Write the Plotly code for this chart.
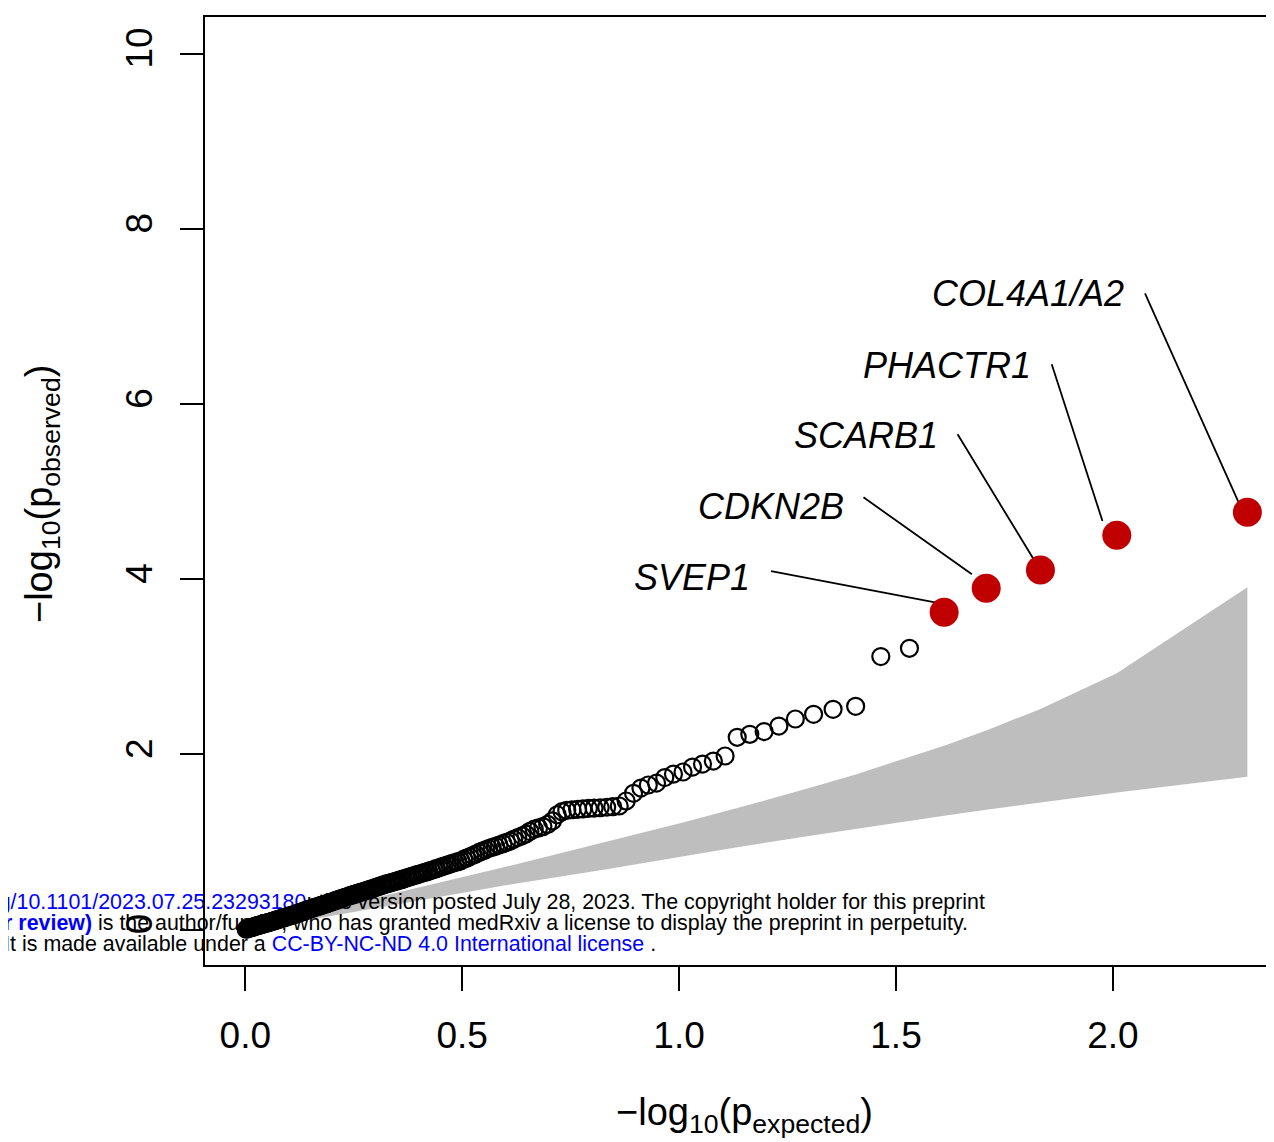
import plotly.graph_objects as go

# ---------------- data ----------------
# expected -log10(p), one value per SNP (sorted, largest first)
expected = [
    2.310, 2.009, 1.833, 1.708, 1.611, 1.531, 1.465, 1.407, 1.355, 1.310,
    1.268, 1.230, 1.196, 1.163, 1.134, 1.106, 1.079, 1.054, 1.031, 1.009,
    0.987, 0.967, 0.948, 0.929, 0.912, 0.895, 0.878, 0.862, 0.847, 0.833,
    0.818, 0.804, 0.791, 0.778, 0.766, 0.753, 0.741, 0.730, 0.719, 0.708,
    0.697, 0.686, 0.676, 0.666, 0.656, 0.647, 0.638, 0.628, 0.619, 0.611,
    0.602, 0.594, 0.585, 0.577, 0.569, 0.561, 0.554, 0.546, 0.539, 0.531,
    0.524, 0.517, 0.510, 0.503, 0.497, 0.490, 0.484, 0.477, 0.471, 0.465,
    0.458, 0.452, 0.446, 0.440, 0.435, 0.429, 0.423, 0.418, 0.412, 0.407,
    0.401, 0.396, 0.391, 0.385, 0.380, 0.375, 0.370, 0.365, 0.360, 0.355,
    0.351, 0.346, 0.341, 0.337, 0.332, 0.327, 0.323, 0.318, 0.314, 0.310,
    0.305, 0.301, 0.297, 0.293, 0.288, 0.284, 0.280, 0.276, 0.272, 0.268,
    0.264, 0.260, 0.257, 0.253, 0.249, 0.245, 0.241, 0.238, 0.234, 0.230,
    0.227, 0.223, 0.220, 0.216, 0.213, 0.209, 0.206, 0.202, 0.199, 0.196,
    0.192, 0.189, 0.186, 0.183, 0.179, 0.176, 0.173, 0.170, 0.167, 0.163,
    0.160, 0.157, 0.154, 0.151, 0.148, 0.145, 0.142, 0.139, 0.136, 0.134,
    0.131, 0.128, 0.125, 0.122, 0.119, 0.117, 0.114, 0.111, 0.108, 0.106,
    0.103, 0.100, 0.097, 0.095, 0.092, 0.090, 0.087, 0.084, 0.082, 0.079,
    0.077, 0.074, 0.072, 0.069, 0.067, 0.064, 0.062, 0.059, 0.057, 0.054,
    0.052, 0.050, 0.047, 0.045, 0.042, 0.040, 0.038, 0.035, 0.033, 0.031,
    0.029, 0.026, 0.024, 0.022, 0.020, 0.017, 0.015, 0.013, 0.011, 0.009,
    0.006, 0.004, 0.002,
]

# observed -log10(p), same order
observed = [
    4.763, 4.500, 4.104, 3.895, 3.621, 3.210, 3.116, 2.548, 2.514, 2.457,
    2.403, 2.323, 2.260, 2.228, 2.194, 1.981, 1.923, 1.889, 1.855, 1.798,
    1.775, 1.735, 1.672, 1.650, 1.615, 1.555, 1.467, 1.410, 1.402, 1.396,
    1.390, 1.386, 1.382, 1.377, 1.372, 1.367, 1.360, 1.345, 1.310, 1.240,
    1.200, 1.175, 1.160, 1.145, 1.120, 1.090, 1.070, 1.050, 1.030, 1.010,
    0.995, 0.980, 0.965, 0.950, 0.938, 0.925, 0.910, 0.895, 0.880, 0.860,
    0.845, 0.830, 0.815, 0.800, 0.785, 0.775, 0.765, 0.755, 0.745, 0.735,
    0.725, 0.715, 0.705, 0.695, 0.685, 0.675, 0.667, 0.658, 0.650, 0.642,
    0.634, 0.626, 0.618, 0.610, 0.602, 0.594, 0.586, 0.578, 0.570, 0.563,
    0.556, 0.549, 0.542, 0.536, 0.530, 0.523, 0.516, 0.509, 0.502, 0.495,
    0.488, 0.481, 0.474, 0.467, 0.460, 0.453, 0.446, 0.440, 0.434, 0.428,
    0.422, 0.416, 0.410, 0.404, 0.398, 0.392, 0.386, 0.380, 0.374, 0.368,
    0.362, 0.356, 0.350, 0.344, 0.338, 0.332, 0.326, 0.320, 0.314, 0.308,
    0.302, 0.297, 0.292, 0.287, 0.282, 0.277, 0.272, 0.267, 0.262, 0.257,
    0.252, 0.247, 0.242, 0.237, 0.232, 0.227, 0.222, 0.217, 0.212, 0.207,
    0.202, 0.197, 0.192, 0.187, 0.182, 0.177, 0.172, 0.168, 0.164, 0.160,
    0.156, 0.152, 0.148, 0.144, 0.140, 0.136, 0.132, 0.128, 0.124, 0.120,
    0.116, 0.112, 0.108, 0.104, 0.100, 0.096, 0.092, 0.088, 0.085, 0.082,
    0.078, 0.075, 0.071, 0.068, 0.064, 0.061, 0.058, 0.054, 0.051, 0.048,
    0.045, 0.041, 0.038, 0.035, 0.031, 0.028, 0.024, 0.021, 0.018, 0.014,
    0.011, 0.007, 0.004,
]

# the five top hits (first five entries above) and their gene labels
n_hits = 5
hit_labels = ["COL4A1/A2", "PHACTR1", "SCARB1", "CDKN2B", "SVEP1"]
label_x = [1.804, 1.618, 1.431, 1.213, 1.030]
label_y = [7.266, 6.444, 5.645, 4.834, 4.024]
leader_x0 = [2.074, 1.859, 1.642, 1.425, 1.212]
leader_y0 = [7.263, 6.452, 5.653, 4.934, 4.092]
leader_x1 = [2.289, 1.976, 1.817, 1.675, 1.590]
leader_y1 = [4.884, 4.663, 4.229, 4.055, 3.735]

# 95% confidence band of the expected order statistics
ci_x = [2.310, 2.009, 1.833, 1.708, 1.611, 1.531, 1.407, 1.310, 1.134, 1.009,
        0.833, 0.611, 0.407, 0.230, 0.106, 0.031, 0.002]
ci_upper = [3.906, 2.925, 2.518, 2.272, 2.099, 1.967, 1.771, 1.629, 1.386, 1.223,
            1.003, 0.728, 0.488, 0.283, 0.138, 0.049, 0.008]
ci_lower = [1.743, 1.564, 1.451, 1.367, 1.299, 1.243, 1.151, 1.077, 0.939, 0.837,
            0.689, 0.514, 0.338, 0.183, 0.075, 0.017, 0.000]

x_tickvals = [0, 0.5, 1.0, 1.5, 2.0]
x_ticktext = ["0.0", "0.5", "1.0", "1.5", "2.0"]
y_tickvals = [0, 2, 4, 6, 8, 10]
y_ticktext = ["0", "2", "4", "6", "8", "10"]

# medRxiv watermark lines
BLUE = "#0000ff"
watermark = [
    "medRxiv preprint doi: <span style='color:%s'>https://doi.org/10.1101/2023.07.25.23293180</span>;"
    " this version posted July 28, 2023. The copyright holder for this preprint" % BLUE,
    "<b><span style='color:%s'>(which was not certified by peer review)</span></b>"
    " is the author/funder, who has granted medRxiv a license to display the preprint in perpetuity." % BLUE,
    "It is made available under a <span style='color:%s'>CC-BY-NC-ND 4.0 International license</span> ." % BLUE,
]
# anchor = right end of each line
wm_x = [1.705, 1.666, 0.947]
wm_y = [0.291, 0.051, -0.188]

FONT = "Arial, Liberation Sans, Helvetica, sans-serif"

fig = go.Figure()

# confidence band
fig.add_trace(go.Scatter(
    x=ci_x + ci_x[::-1], y=ci_upper + ci_lower[::-1],
    mode="lines", fill="toself", fillcolor="#bebebe",
    line=dict(width=0, color="#bebebe"), hoverinfo="skip", showlegend=False,
))

# watermark (below the points)
fig.add_trace(go.Scatter(
    x=wm_x, y=wm_y, text=watermark, mode="text", textposition="middle left",
    textfont=dict(family=FONT, size=21.4, color="black"),
    cliponaxis=False, hoverinfo="skip", showlegend=False,
))

# leader lines
lx, ly = [], []
for a, b, c, d in zip(leader_x0, leader_y0, leader_x1, leader_y1):
    lx += [a, c, None]
    ly += [b, d, None]
fig.add_trace(go.Scatter(
    x=lx, y=ly, mode="lines", line=dict(color="black", width=1.8),
    hoverinfo="skip", showlegend=False,
))

# ordinary SNPs (open circles)
fig.add_trace(go.Scatter(
    x=expected[n_hits:], y=observed[n_hits:], mode="markers",
    marker=dict(symbol="circle-open", size=17, color="black",
                line=dict(width=2.2, color="black")),
    showlegend=False, cliponaxis=False,
))

# top hits (red filled)
fig.add_trace(go.Scatter(
    x=expected[:n_hits], y=observed[:n_hits], mode="markers",
    marker=dict(symbol="circle", size=29, color="#c00000", line=dict(width=0)),
    showlegend=False, cliponaxis=False,
))

annotations = []
for t, x, y in zip(hit_labels, label_x, label_y):
    annotations.append(dict(
        x=x, y=y, xref="x", yref="y", text="<i>%s</i>" % t, showarrow=False,
        xanchor="center", yanchor="middle",
        font=dict(family=FONT, size=36, color="black"),
    ))

annotations.append(dict(
    x=0.505, y=-0.158, xref="paper", yref="paper",
    text="\u2212log<sub>10</sub>(p<sub>expected</sub>)", showarrow=False,
    xanchor="center", yanchor="middle",
    font=dict(family=FONT, size=38, color="black"),
))
annotations.append(dict(
    x=-0.1525, y=0.4968, xref="paper", yref="paper",
    text="\u2212log<sub>10</sub>(p<sub>observed</sub>)", showarrow=False,
    xanchor="center", yanchor="middle", textangle=-90,
    font=dict(family=FONT, size=38, color="black"),
))

fig.update_layout(
    width=1266, height=1134,
    margin=dict(l=197, r=0, t=9, b=177, pad=0),
    paper_bgcolor="white", plot_bgcolor="white",
    showlegend=False,
    annotations=annotations,
    xaxis=dict(
        range=[-0.0929, 2.3714], tickvals=x_tickvals, ticktext=x_ticktext,
        ticks="outside", ticklen=24, tickwidth=2, tickcolor="black",
        tickfont=dict(family=FONT, size=37, color="black"),
        ticklabelstandoff=13,
        showgrid=False, zeroline=False,
        showline=True, linewidth=2, linecolor="black", mirror=True,
    ),
    yaxis=dict(
        range=[-0.405, 10.417], tickvals=y_tickvals, ticktext=y_ticktext,
        ticks="outside", ticklen=23, tickwidth=2, tickcolor="black",
        tickangle=-90,
        tickfont=dict(family=FONT, size=37, color="black"),
        ticklabelstandoff=13,
        showgrid=False, zeroline=False,
        showline=True, linewidth=2, linecolor="black", mirror=False,
    ),
)

fig.write_html("out.html")
